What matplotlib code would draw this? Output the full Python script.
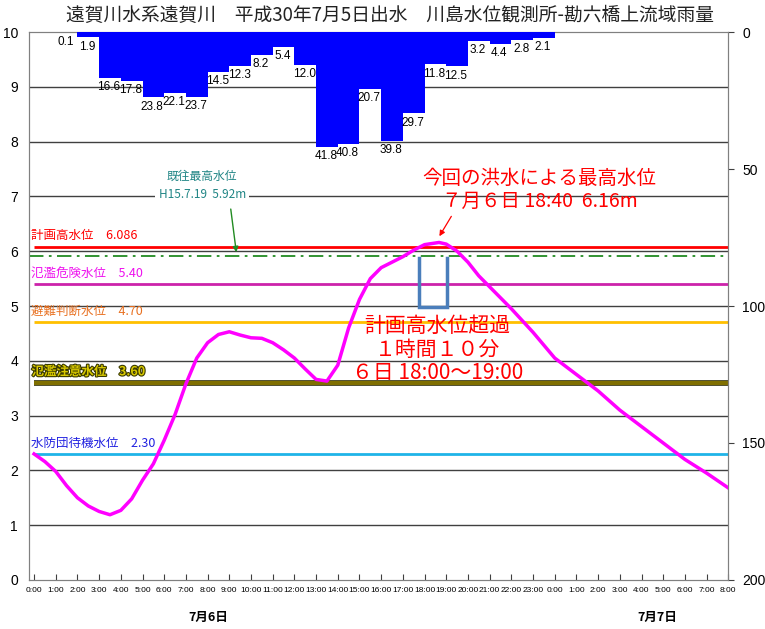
import matplotlib
matplotlib.use('Agg')
import matplotlib.pyplot as plt
import matplotlib.patheffects as pe

plt.rcParams['font.family'] = ['Liberation Sans', 'Noto Sans CJK JP', 'DejaVu Sans']

# ---- data ----
title = '遠賀川水系遠賀川\u3000平成30年7月5日出水\u3000川島水位観測所-勘六橋上流域雨量'

hours = [0.0, 0.5, 1.0, 1.5, 2.0, 2.5, 3.0, 3.5, 4.0, 4.5, 5.0, 5.5, 6.0, 6.5,
         7.0, 7.5, 8.0, 8.5, 9.0, 9.5, 10.0, 10.5, 11.0, 11.5, 12.0, 12.5, 13.0,
         13.5, 14.0, 14.5, 15.0, 15.5, 16.0, 16.5, 17.0, 17.5, 18.0, 18.667, 19.0,
         19.5, 20.0, 20.5, 21.0, 22.0, 23.0, 24.0, 25.0, 26.0, 27.0, 28.0, 29.0,
         30.0, 31.0, 32.0]
level = [2.30, 2.16, 1.98, 1.72, 1.50, 1.35, 1.25, 1.19, 1.27, 1.48, 1.82, 2.12,
         2.55, 3.02, 3.58, 4.05, 4.33, 4.48, 4.53, 4.47, 4.42, 4.41, 4.33, 4.20,
         4.05, 3.85, 3.66, 3.63, 3.92, 4.60, 5.12, 5.50, 5.70, 5.80, 5.90, 6.02,
         6.12, 6.16, 6.13, 6.00, 5.80, 5.55, 5.35, 4.95, 4.52, 4.05, 3.75, 3.45,
         3.10, 2.80, 2.50, 2.20, 1.95, 1.68]

rain_start = [1, 2, 3, 4, 5, 6, 7, 8, 9, 10, 11, 12, 13, 14, 15, 16, 17, 18, 19,
              20, 21, 22, 23]
rain = [0.1, 1.9, 16.6, 17.8, 23.8, 22.1, 23.7, 14.5, 12.3, 8.2, 5.4, 12.0,
        41.8, 40.8, 20.7, 39.8, 29.7, 11.8, 12.5, 3.2, 4.4, 2.8, 2.1]

threshold_names = ['計画高水位\u30006.086', '氾濫危険水位\u30005.40',
                   '避難判断水位\u30004.70', '氾濫注意水位\u30003.60',
                   '水防団待機水位\u30002.30']
threshold_values = [6.086, 5.40, 4.70, 3.60, 2.30]
threshold_colors = ['#FF0000', '#CC22AA', '#FFC000', '#7F6F00', '#1FB4E8']
threshold_text_colors = ['#FF0000', '#EE10EE', '#E87020', '#D8C800', '#2020E0']

past_max = 5.92
peak_time = 18.667
peak_level = 6.16

xtick_pos = list(range(0, 33))
xtick_labels = ['0:00', '1:00', '2:00', '3:00', '4:00', '5:00', '6:00', '7:00',
                '8:00', '9:00', '10:00', '11:00', '12:00', '13:00', '14:00',
                '15:00', '16:00', '17:00', '18:00', '19:00', '20:00', '21:00',
                '22:00', '23:00', '0:00', '1:00', '2:00', '3:00', '4:00', '5:00',
                '6:00', '7:00', '8:00']
left_ticks = [0, 1, 2, 3, 4, 5, 6, 7, 8, 9, 10]
right_ticks = [0, 50, 100, 150, 200]

# ---- figure ----
fig = plt.figure(figsize=(7.65, 6.29), dpi=100)
ax = fig.add_axes([0.038, 0.078, 0.914, 0.871])
ax.set_xlim(-0.23, 32.0)
ax.set_ylim(0, 10)

for v in left_ticks[1:-1]:
    ax.axhline(v, color='#404040', lw=1.0, zorder=1)

for name, val, c, tc in zip(threshold_names, threshold_values, threshold_colors, threshold_text_colors):
    lw = 3.0 if val == 3.60 else 2.0
    if val == 3.60:
        ax.plot([0, 32], [val, val], color=c, lw=lw, zorder=2, solid_capstyle='butt',
                path_effects=[pe.Stroke(linewidth=4.0, foreground='#202000'), pe.Normal()])
        ax.text(-0.12, val + 0.08, name, color=tc, fontsize=9, fontweight='bold',
                family=['Noto Sans CJK JP'], ha='left', va='bottom', zorder=5,
                path_effects=[pe.withStroke(linewidth=1.6, foreground='#3A3A00')])
    else:
        ax.plot([0, 32], [val, val], color=c, lw=lw, zorder=2, solid_capstyle='butt')
        ax.text(-0.12, val + 0.08, name, color=tc, fontsize=9,
                family=['Noto Sans CJK JP'], ha='left', va='bottom', zorder=5)

ax.plot([-0.23, 32], [past_max, past_max], color='#228B22', lw=1.3,
        linestyle=(0, (8, 3, 1.5, 3)), zorder=2)

ax.text(7.75, 7.2, '既往最高水位\nH15.7.19  5.92m', color='#208585', fontsize=8.5,
        family=['Noto Sans CJK JP'], ha='center', va='center', linespacing=1.5,
        zorder=6, bbox=dict(boxstyle='square,pad=0.3', fc='white', ec='none'))
ax.annotate('', xy=(9.34, 5.93), xytext=(9.05, 6.82),
            arrowprops=dict(arrowstyle='-|>', color='#228B22', lw=1.0,
                            mutation_scale=8), zorder=6)

ax.plot(hours, level, color='#FF00FF', lw=2.5, zorder=4)

# bracket for exceedance
bx0, bx1, btop, bbot = 17.75, 19.05, 5.88, 4.98
ax.plot([bx0, bx0, bx1, bx1], [btop, bbot, bbot, btop], color='#4A7EBB', lw=2.5,
        zorder=4, solid_joinstyle='miter')

ax.text(18.6, 4.2, '計画高水位超過\n１時間１０分\n６日 18:00～19:00', color='#FF0000',
        fontsize=15, family=['Noto Sans CJK JP'], ha='center', va='center',
        linespacing=1.08, zorder=6)
ax.text(23.3, 7.12, '今回の洪水による最高水位\n７月６日 18:40  6.16m', color='#FF0000',
        fontsize=14, family=['Noto Sans CJK JP'], ha='center', va='center',
        linespacing=1.1, zorder=6)
ax.annotate('', xy=(peak_time - 0.05, peak_level + 0.07), xytext=(19.3, 6.68),
            arrowprops=dict(arrowstyle='-|>', color='#FF0000', lw=0.9,
                            mutation_scale=8), zorder=6)

ax.set_yticks(left_ticks)
ax.set_yticklabels([str(v) for v in left_ticks], fontsize=10)
ax.tick_params(axis='y', length=0, pad=8)
ax.set_xticks(xtick_pos)
ax.set_xticklabels(xtick_labels, fontsize=6.0)
ax.tick_params(axis='x', direction='in', length=4, color='#404040', pad=5)
for s in ['left', 'bottom', 'right', 'top']:
    ax.spines[s].set_color('#808080')

# rainfall
ax2 = ax.twinx()
ax2.set_ylim(200, 0)
ax2.bar(rain_start, rain, width=1.0, align='edge', color='#0000FF', zorder=3)
for xs, r in zip(rain_start, rain):
    ax2.text(xs + 0.45, r + 1.2, f'{r:.1f}', fontsize=8.5, ha='center', va='top',
             color='black')
ax2.set_yticks(right_ticks)
ax2.set_yticklabels([str(v) for v in right_ticks], fontsize=10)
ax2.tick_params(axis='y', direction='out', length=4, color='#404040', pad=6)
for s in ['left', 'bottom', 'right', 'top']:
    ax2.spines[s].set_color('#808080')

fig.text(0.51, 0.976, title, fontsize=13.5, family=['Noto Sans CJK JP'],
         ha='center', va='center', color='#222222')
fig.text(0.272, 0.018, '7月6日', fontsize=9, fontweight='bold',
         family=['Noto Sans CJK JP'], ha='center', va='center')
fig.text(0.859, 0.018, '7月7日', fontsize=9, fontweight='bold',
         family=['Noto Sans CJK JP'], ha='center', va='center')

fig.savefig('out.png', dpi=100)
